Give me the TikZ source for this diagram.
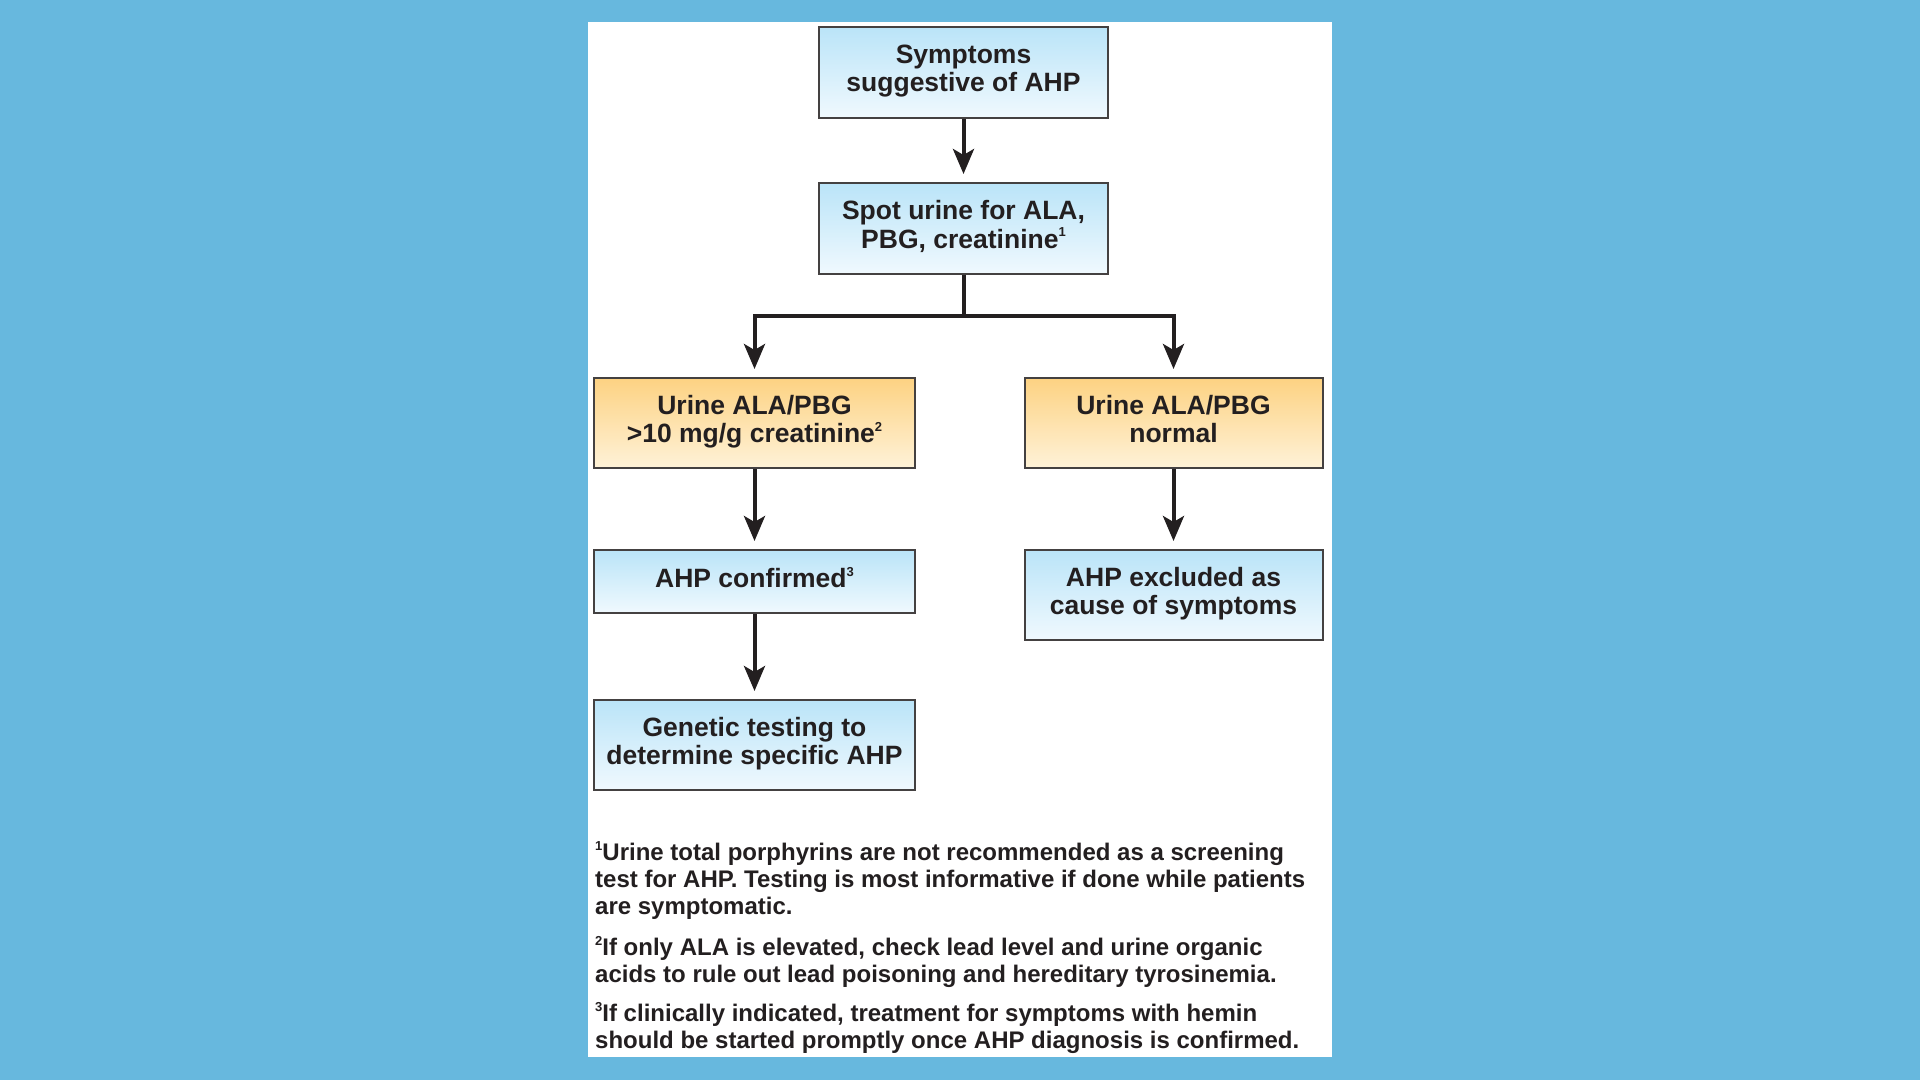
\documentclass[tikz,border=0pt]{standalone}
\usepackage{fontspec}
\setmainfont{Liberation Sans}
\usepackage{tikz}
\usetikzlibrary{arrows.meta}

\definecolor{skyback}{RGB}{103,184,222}
\definecolor{bluetop}{RGB}{186,228,248}
\definecolor{bluebot}{RGB}{240,249,254}
\definecolor{ambertop}{RGB}{253,210,130}
\definecolor{amberbot}{RGB}{254,242,216}
\definecolor{inkdark}{RGB}{35,31,32}

\newcommand{\supnum}[1]{\raisebox{0.42em}{\fontsize{13}{13}\selectfont #1}}

\begin{document}
\begin{tikzpicture}[x=1pt,y=-1pt,
  box/.style={draw=inkdark!85,line width=2pt,inner sep=0pt,align=center,
    text=inkdark,font=\fontsize{26.5}{28.5}\selectfont\bfseries,
    execute at begin node=\strut,execute at end node=\strut},
  bluebox/.style={box,top color=bluetop,bottom color=bluebot},
  amberbox/.style={box,top color=ambertop,bottom color=amberbot},
  flow/.style={draw=inkdark,line width=4pt},
  arrow/.style={flow,-{Stealth[length=25pt,width=21pt,inset=6pt]},shorten >=8pt},
  note/.style={anchor=north west,inner sep=0pt,align=left,text=inkdark,
    font=\fontsize{24}{27}\selectfont\bfseries}]
\fill[skyback] (0,0) rectangle (1920,1080);
\fill[white] (588,22) rectangle (1332,1057);

\node[bluebox,minimum width=289pt,minimum height=91pt] (sym) at (963.5,72.5) {Symptoms\\suggestive of AHP};
\node[bluebox,minimum width=289pt,minimum height=91pt] (spot) at (963.5,228.5) {Spot urine for ALA,\\PBG, creatinine\supnum{1}};
\node[amberbox,minimum width=321pt,minimum height=90pt] (high) at (754.5,423) {Urine ALA/PBG\\>10 mg/g creatinine\supnum{2}};
\node[amberbox,minimum width=298pt,minimum height=90pt] (norm) at (1173.5,423) {Urine ALA/PBG\\normal};
\node[bluebox,minimum width=321pt,minimum height=63pt] (conf) at (754.5,581.5) {AHP confirmed\supnum{3}};
\node[bluebox,minimum width=298pt,minimum height=90pt] (excl) at (1173.5,595) {AHP excluded as\\cause of symptoms};
\node[bluebox,minimum width=321pt,minimum height=90pt] (gen) at (754.5,745) {Genetic testing to\\determine specific AHP};

\coordinate (split) at (963.5,316);

\draw[arrow] (sym) -- (spot);
\draw[flow] (spot) -- (split);
\draw[arrow] (split) -| (high);
\draw[arrow] (split) -| (norm);
\draw[arrow] (high) -- (conf);
\draw[arrow] (norm) -- (excl);
\draw[arrow] (conf) -- (gen);

\node[note] (fnA) at (595,841) {\supnum{1}Urine total porphyrins are not recommended as a screening\\test for AHP. Testing is most informative if done while patients\\are symptomatic.};
\node[note] (fnB) at (595,936) {\supnum{2}If only ALA is elevated, check lead level and urine organic\\acids to rule out lead poisoning and hereditary tyrosinemia.};
\node[note] (fnC) at (595,1002) {\supnum{3}If clinically indicated, treatment for symptoms with hemin\\should be started promptly once AHP diagnosis is confirmed.};
\end{tikzpicture}
\end{document}
